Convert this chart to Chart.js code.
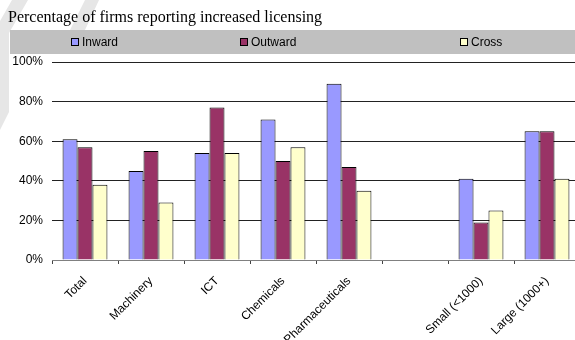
<!DOCTYPE html>
<html>
<head>
<meta charset="utf-8">
<script src="https://cdn.jsdelivr.net/npm/chart.js@4"></script>
<style>
  html, body { margin: 0; padding: 0; background: #fff; overflow: hidden; }
  #wrap { width: 585px; height: 340px; }
</style>
</head>
<body>
<div id="wrap"><canvas id="chart" width="585" height="340"></canvas></div>
<script>
// Percentage of firms reporting increased licensing
const categories = ['Total', 'Machinery', 'ICT', 'Chemicals', 'Pharmaceuticals', '', 'Small (<1000)', 'Large (1000+)'];
const inward = [61, 45, 54, 71, 89, null, 41, 65];
const outward = [57, 55, 77, 50, 47, null, 19, 65];
const cross = [38, 29, 54, 57, 35, null, 25, 41];
const yTicks = [0, 20, 40, 60, 80, 100];

const seriesNames = ['Inward', 'Outward', 'Cross'];
const seriesColors = ['#9999FF', '#993366', '#FFFFCC'];

// faint watermark in the top left corner + grey legend band
const decor = {
  id: 'decor',
  beforeDraw(chart) {
    const ctx = chart.ctx;
    ctx.save();
    ctx.fillStyle = '#e6e6e6';
    ctx.beginPath();
    ctx.moveTo(12, 0); ctx.lineTo(28, 0); ctx.lineTo(9, 33);
    ctx.lineTo(9, 112); ctx.lineTo(0, 130); ctx.lineTo(0, 21);
    ctx.closePath();
    ctx.fill();
    ctx.beginPath();
    ctx.moveTo(85, 0); ctx.lineTo(99, 0); ctx.lineTo(85, 30); ctx.lineTo(70, 30);
    ctx.closePath();
    ctx.fill();
    ctx.restore();
  },
  afterDraw(chart) {
    const ctx = chart.ctx;
    const itemX = [71, 240, 460];
    ctx.save();
    ctx.fillStyle = '#C0C0C0';
    ctx.fillRect(10, 30, chart.width - 10, 24);
    ctx.font = '12px "Liberation Sans", Arial, sans-serif';
    ctx.textBaseline = 'middle';
    ctx.textAlign = 'left';
    chart.data.datasets.forEach((ds, i) => {
      const x = itemX[i];
      ctx.fillStyle = ds.backgroundColor;
      ctx.fillRect(x, 38, 8, 8);
      ctx.strokeStyle = '#000';
      ctx.lineWidth = 1;
      ctx.strokeRect(x + 0.5, 38.5, 7, 7);
      ctx.fillStyle = '#000';
      ctx.fillText(ds.label, x + 11, 42.5);
    });
    ctx.restore();
  }
};

const makeSet = (i, data) => ({
  label: seriesNames[i],
  data: data,
  backgroundColor: seriesColors[i],
  borderColor: '#000',
  borderWidth: 1,
  categoryPercentage: 0.68,
  barPercentage: 1.0
});

new Chart(document.getElementById('chart'), {
  type: 'bar',
  data: {
    labels: categories,
    datasets: [makeSet(0, inward), makeSet(1, outward), makeSet(2, cross)]
  },
  plugins: [decor],
  options: {
    responsive: false,
    animation: false,
    layout: { padding: { left: 8, right: 5, top: 0, bottom: 0 } },
    plugins: {
      legend: { display: false },
      tooltip: { enabled: false },
      title: {
        display: true,
        text: 'Percentage of firms reporting increased licensing',
        align: 'start',
        color: '#000',
        font: { family: '"Liberation Serif", "Times New Roman", serif', size: 16, weight: 'normal' },
        padding: { top: 8, bottom: 34.8 }
      }
    },
    scales: {
      x: {
        grid: { offset: true, drawOnChartArea: false, drawTicks: true, tickLength: 4, color: '#444' },
        border: { color: '#808080' },
        ticks: {
          color: '#000',
          font: { family: '"Liberation Sans", Arial, sans-serif', size: 12 },
          minRotation: 45,
          maxRotation: 45,
          autoSkip: false,
          padding: 10
        },
        afterFit(scale) { scale.height = 80; }
      },
      y: {
        min: 0,
        max: 100,
        afterBuildTicks(scale) { scale.ticks = yTicks.map(v => ({ value: v })); },
        grid: {
          drawTicks: false,
          color: ctx => ctx.tick && ctx.tick.value === 0 ? '#808080' : '#222'
        },
        border: { display: false },
        ticks: {
          color: '#000',
          font: { family: '"Liberation Sans", Arial, sans-serif', size: 12 },
          padding: 9,
          callback: v => v + '%'
        },
        afterFit(scale) { scale.width = 44; }
      }
    }
  }
});
</script>
</body>
</html>
